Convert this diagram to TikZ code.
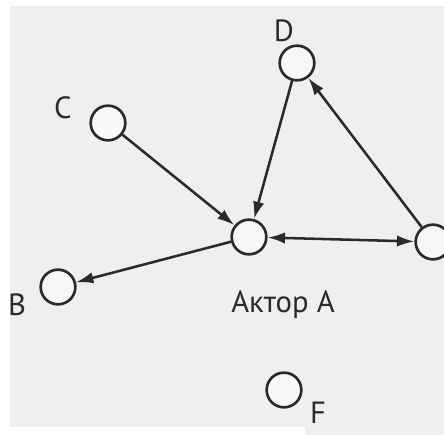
\documentclass[tikz,border=0pt]{standalone}
\usepackage{fontspec}
\setmainfont{PT Sans}
\usetikzlibrary{arrows.meta}
\definecolor{ink}{HTML}{2A2A2A}
\definecolor{paper}{HTML}{EFEFEF}
\tikzset{
  actor/.style={circle,draw=ink,line width=2pt,minimum size=26pt,inner sep=0pt,fill=white!50!paper},
  tie/.style={draw=ink,line width=1.9pt,-{Latex[length=13pt,width=8.5pt]}},
  lbl/.style={font=\fontsize{23}{23}\selectfont,text=ink,inner sep=0pt}
}
\begin{document}
\begin{tikzpicture}[x=0.75pt,y=-0.75pt]
\useasboundingbox (0,0) rectangle (444,435);
\clip (0,0) rectangle (444,435);
\fill[white] (0,0) rectangle (444,435);
\fill[paper] (10,6) rectangle (444,427);
\fill[paper] (305,420) rectangle (444,435);
\node[actor] (D) at (297,63) {};
\node[actor] (C) at (108,123) {};
\node[actor] (A) at (249,237) {};
\node[actor] (E) at (433,242) {};
\node[actor] (B) at (58,287) {};
\node[actor] (F) at (284,390) {};
\node[lbl] (lD) at (284,31) {D};
\node[lbl] (lC) at (63,108) {C};
\node[lbl] (lB) at (17,305) {B};
\node[lbl] (lA) at (283,305) {Актор А};
\node[lbl] (lF) at (318,413) {F};
\draw[tie] (C) -- (A);
\draw[tie] (D) -- (A);
\draw[tie] (E) -- (D);
\draw[tie,{Latex[length=13pt,width=8.5pt]}-{Latex[length=13pt,width=8.5pt]}] (A) -- (E);
\draw[tie] (A) -- (B);
\end{tikzpicture}
\end{document}
